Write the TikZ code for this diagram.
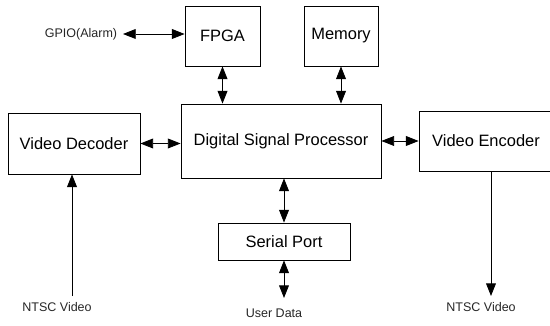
\documentclass[tikz,border=0pt]{standalone}
\usepackage{fontspec}
\setmainfont{Liberation Sans}
\usetikzlibrary{arrows.meta}
\tikzset{
    block/.style={draw, line width=0.6pt, inner sep=0pt, font=\fontsize{11.7}{14}\selectfont},
    sig/.style={inner sep=1pt, text=black!85, font=\fontsize{8.9}{11}\selectfont},
    biarrow/.style={{Triangle[length=9pt,width=7pt]}-{Triangle[length=9pt,width=7pt]}, line width=0.6pt},
    uniarrow/.style={-{Triangle[length=9pt,width=7pt]}, line width=0.6pt}
}
\begin{document}
\begin{tikzpicture}[x=0.025cm, y=-0.025cm]
    \useasboundingbox (0,0) rectangle (550,326);
    \clip (0,0) rectangle (550,326);

    % Blocks
    \node[block, minimum width=1.875cm, minimum height=1.5cm] (fpga) at (222.5,36) {FPGA};
    \node[block, minimum width=1.85cm, minimum height=1.5cm] (memory) at (341,36) {Memory};
    \node[block, minimum width=5cm, minimum height=1.85cm] (dsp) at (281,141) {Digital Signal Processor};
    \node[block, minimum width=3.3cm, minimum height=1.525cm] (decoder) at (74,143.5) {Video Decoder};
    \node[block, minimum width=3.35cm, minimum height=1.5cm] (encoder) at (486,141) {Video Encoder};
    \node[block, minimum width=3.3cm, minimum height=0.925cm] (serial) at (284,241.5) {Serial Port};

    % Signal labels
    \node[sig] (gpio) at (81,34) {GPIO(Alarm)};
    \node[sig] (ntscin) at (57,307) {NTSC Video};
    \node[sig] (ntscout) at (481,307) {NTSC Video};
    \node[sig] (user) at (274,313) {User Data};
    \coordinate (vin) at (72,296);
    \coordinate (vout) at (491,296);
    \coordinate (uend) at (284,298);

    % Connections
    \draw[biarrow, shorten <=3pt] (gpio.east) -- (gpio.east -| fpga.west);
    \draw[biarrow] (fpga.south) -- (fpga.south |- dsp.north);
    \draw[biarrow] (memory.south) -- (memory.south |- dsp.north);
    \draw[biarrow] (decoder.east) -- (decoder.east -| dsp.west);
    \draw[biarrow] (dsp.east) -- (dsp.east -| encoder.west);
    \draw[biarrow] (serial.north) -- (serial.north |- dsp.south);
    \draw[biarrow] (serial.south) -- (uend);
    \draw[uniarrow] (vin) -- (vin |- decoder.south);
    \draw[uniarrow] (vout |- encoder.south) -- (vout);

\end{tikzpicture}
\end{document}
